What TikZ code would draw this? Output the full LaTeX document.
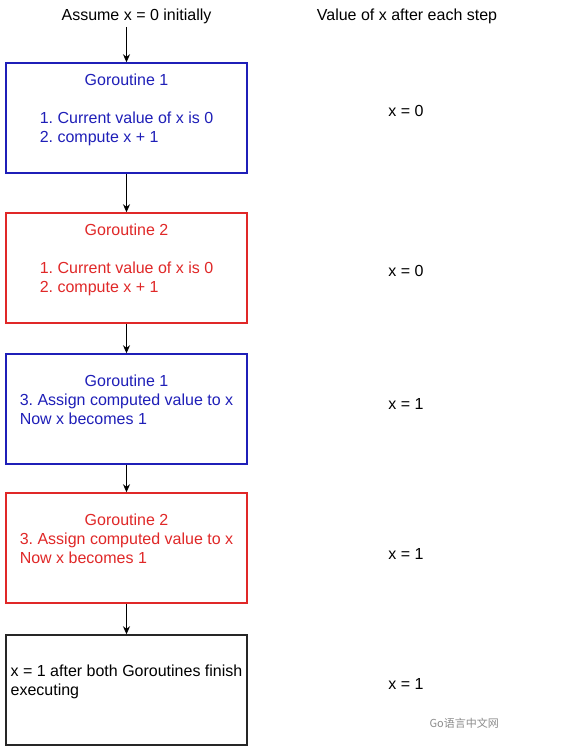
\documentclass[tikz,border=0pt]{standalone}
\usepackage{fontspec}
\setmainfont{Liberation Sans}
\newfontfamily\cjkfont{Noto Sans CJK SC}
\usetikzlibrary{arrows.meta,positioning}
\definecolor{goblue}{HTML}{1F1FB8}
\definecolor{gored} {HTML}{E02828}
\definecolor{wmark} {HTML}{8C8C8C}

\newcommand{\boxlines}[1]{\begin{tabular}{@{}l@{}}#1\\[-4pt]\mbox{}\end{tabular}}

\tikzset{
  stepbox/.style={draw, line width=1.5pt, fill=white, minimum width=241pt,
    minimum height=110pt, inner sep=0pt, align=center},
  flow/.style={-{Stealth[length=8pt,width=7pt]}, line width=0.8pt}
}

\begin{document}
\frenchspacing
\begin{tikzpicture}[x=1pt, y=-1pt,
    every node/.style={font=\fontsize{16}{19}\selectfont}]
  \useasboundingbox (0,0) rectangle (569,755);

  % column headers
  \node (hdrsteps) at (136.5,16) {Assume x = 0 initially};
  \node (hdrvals)  at (407,16)   {Value of x after each step};

  % the steps
  \node[stepbox, draw=goblue, text=goblue] (g1a) at (126.5,118) {\boxlines{%
    \multicolumn{1}{@{}c@{}}{Goroutine 1}\\ \\
    1. Current value of x is 0\\ 2. compute x + 1}};
  \node[stepbox, draw=gored, text=gored] (g2a) at (126.5,268) {\boxlines{%
    \multicolumn{1}{@{}c@{}}{Goroutine 2}\\ \\
    1. Current value of x is 0\\ 2. compute x + 1}};
  \node[stepbox, draw=goblue, text=goblue] (g1b) at (126.5,409) {\boxlines{%
    \multicolumn{1}{@{}c@{}}{Goroutine 1}\\
    3. Assign computed value to x\\ Now x becomes 1}};
  \node[stepbox, draw=gored, text=gored] (g2b) at (126.5,548) {\boxlines{%
    \multicolumn{1}{@{}c@{}}{Goroutine 2}\\
    3. Assign computed value to x\\ Now x becomes 1}};
  \node[stepbox, draw=black!85] (done) at (126.5,690) {\boxlines{%
    x = 1 after both Goroutines finish\\ executing}};

  % value of x
  \node (v1) at (406,111) {x = 0};
  \node (v2) at (406,271) {x = 0};
  \node (v3) at (406,404) {x = 1};
  \node (v4) at (406,554) {x = 1};
  \node (v5) at (406,684) {x = 1};

  % arrows
  \draw[flow] (g1a.north |- hdrsteps.south) -- (g1a.north);
  \draw[flow] (g1a.south) -- (g2a.north);
  \draw[flow] (g2a.south) -- (g1b.north);
  \draw[flow] (g1b.south) -- (g2b.north);
  \draw[flow] (g2b.south) -- (done.north);

  \node[anchor=west, text=wmark, font=\cjkfont\fontsize{11}{13}\selectfont]
    (wm) at (426,723) {Go语言中文网};
\end{tikzpicture}
\end{document}
